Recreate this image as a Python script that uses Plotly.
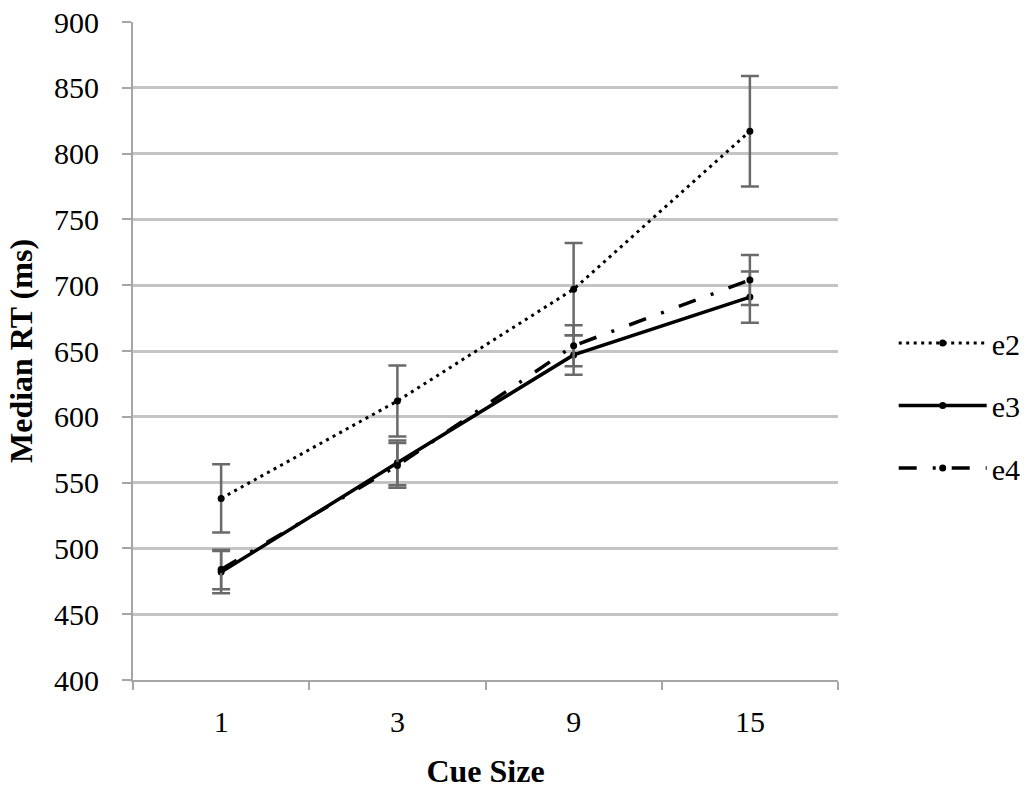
import plotly.graph_objects as go

categories = ["1", "3", "9", "15"]
e2 = [538, 612, 697, 817]
e2_err = [26, 27, 35, 42]
e3 = [482, 565, 647, 691]
e3_err = [16, 17, 15, 19.5]
e4 = [484, 563, 654, 704]
e4_err = [15, 17, 15.5, 19]

series = [
    ("e2", e2, e2_err, dict(color="black", width=3, dash="3px,4.5px")),
    ("e3", e3, e3_err, dict(color="black", width=3.5, dash="solid")),
    ("e4", e4, e4_err, dict(color="black", width=3.5, dash="18px,16px,3px,16px")),
]

fig = go.Figure()
for name, vals, errs, line in series:
    fig.add_trace(go.Scatter(
        x=categories, y=vals, name=name, mode="lines+markers",
        line=line,
        marker=dict(color="black", size=7, symbol="circle"),
        error_y=dict(type="data", array=errs, visible=True,
                     color="#6a6a6a", thickness=2.5, width=9),
        legendgroup=name,
    ))

FONT = "Liberation Serif"
fig.update_layout(
    width=1032, height=789,
    margin=dict(l=133, r=194, t=22, b=109, autoexpand=False),
    paper_bgcolor="white", plot_bgcolor="white",
    font=dict(family=FONT, size=30, color="black"),
    showlegend=True,
    legend=dict(x=1.079, y=0.417, xanchor="left", yanchor="middle",
                traceorder="grouped", tracegroupgap=20.5,
                font=dict(family=FONT, size=30), itemwidth=88,
                bgcolor="rgba(0,0,0,0)"),
    xaxis=dict(
        type="category", range=[-0.5, 3.5],
        showline=True, linecolor="#a6a6a6", linewidth=2,
        ticks="outside", tickson="boundaries", ticklen=8,
        tickcolor="#a6a6a6", tickwidth=2,
        showgrid=False, zeroline=False, automargin=False,
        ticklabelstandoff=14,
        title=dict(text="<b>Cue Size</b>", font=dict(family=FONT, size=32), standoff=23),
        tickfont=dict(family=FONT, size=30),
    ),
    yaxis=dict(
        range=[400, 900], dtick=50, tick0=400,
        showline=True, linecolor="#a6a6a6", linewidth=2,
        ticks="outside", ticklen=9, tickcolor="#a6a6a6", tickwidth=2,
        showgrid=True, gridcolor="#c4c4c4", gridwidth=2.5,
        zeroline=False, automargin=False,
        ticklabelstandoff=17, ticklabeloverflow="allow",
        title=dict(text="<b>Median RT (ms)</b>", font=dict(family=FONT, size=32), standoff=12),
        tickfont=dict(family=FONT, size=30),
    ),
)

fig.write_html("out.html", config={"displayModeBar": False},
               post_script="document.body.style.margin='0';")
